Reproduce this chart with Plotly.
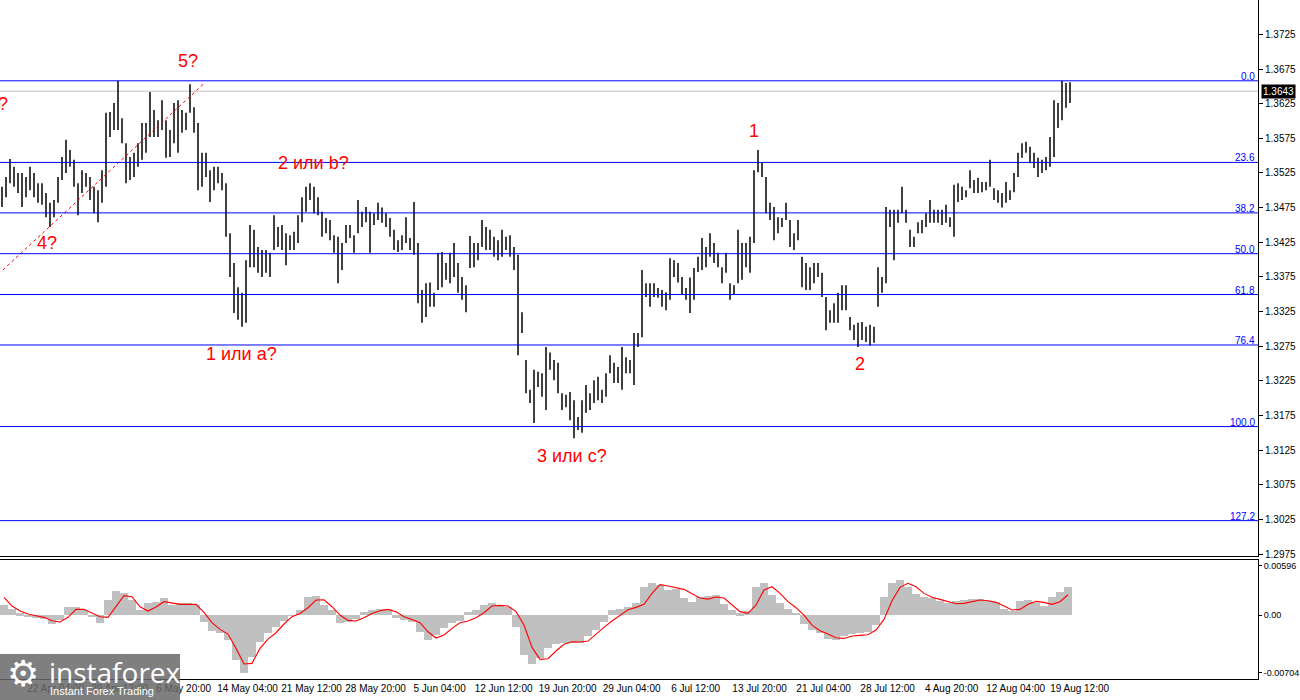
import plotly.graph_objects as go

# ---------------- data ----------------
bar_high = [1.3505,1.3519,1.3545,1.3534,1.3525,1.3525,1.3519,1.3534,1.3525,1.3510,
1.3510,1.3496,1.3482,1.3486,1.3519,1.3548,1.3573,1.3558,1.3544,1.3510,
1.3529,1.3525,1.3519,1.3505,1.3500,1.3529,1.3612,1.3613,1.3626,1.3658,
1.3604,1.3568,1.3548,1.3554,1.3568,1.3597,1.3597,1.3642,1.3616,1.3601,
1.3630,1.3601,1.3587,1.3626,1.3630,1.3616,1.3612,1.3653,1.3620,1.3597,
1.3554,1.3554,1.3529,1.3534,1.3534,1.3525,1.3510,1.3438,1.3395,1.3360,
1.3352,1.3399,1.3450,1.3443,1.3418,1.3414,1.3414,1.3410,1.3464,1.3447,
1.3450,1.3438,1.3435,1.3440,1.3464,1.3490,1.3505,1.3510,1.3505,1.3490,
1.3469,1.3460,1.3457,1.3435,1.3433,1.3424,1.3450,1.3450,1.3435,1.3486,
1.3469,1.3476,1.3469,1.3467,1.3482,1.3475,1.3467,1.3460,1.3443,1.3428,
1.3435,1.3461,1.3431,1.3483,1.3424,1.3356,1.3366,1.3367,1.3352,1.3410,
1.3411,1.3395,1.3410,1.3424,1.3395,1.3375,1.3363,1.3434,1.3424,1.3424,
1.3457,1.3447,1.3443,1.3433,1.3428,1.3443,1.3433,1.3435,1.3418,1.3407,
1.3324,1.3255,1.3212,1.3241,1.3238,1.3236,1.3274,1.3266,1.3255,1.3251,
1.3207,1.3205,1.3209,1.3197,1.3173,1.3197,1.3219,1.3207,1.3226,1.3231,
1.3212,1.3236,1.3262,1.3251,1.3245,1.3274,1.3259,1.3255,1.3294,1.3294,
1.3385,1.3366,1.3366,1.3366,1.3359,1.3356,1.3353,1.3402,1.3399,1.3395,
1.3375,1.3359,1.3374,1.3388,1.3404,1.3431,1.3418,1.3438,1.3424,1.3410,
1.3389,1.3410,1.3366,1.3363,1.3443,1.3424,1.3424,1.3433,1.3529,1.3558,
1.3541,1.3519,1.3482,1.3476,1.3461,1.3460,1.3482,1.3457,1.3438,1.3457,
1.3404,1.3395,1.3389,1.3395,1.3395,1.3381,1.3346,1.3327,1.3337,1.3352,
1.3363,1.3363,1.3317,1.3306,1.3309,1.3310,1.3303,1.3306,1.3303,1.3389,
1.3375,1.3476,1.3472,1.3472,1.3472,1.3505,1.3472,1.3443,1.3433,1.3454,
1.3457,1.3467,1.3486,1.3472,1.3472,1.3472,1.3479,1.3461,1.3508,1.3510,
1.3505,1.3500,1.3529,1.3515,1.3518,1.3512,1.3512,1.3544,1.3503,1.3500,
1.3496,1.3512,1.3500,1.3525,1.3554,1.3568,1.3570,1.3563,1.3554,1.3547,
1.3544,1.3548,1.3577,1.3630,1.3626,1.3658,1.3655,1.3656]

bar_low = [1.3476,1.3490,1.3510,1.3505,1.3496,1.3476,1.3490,1.3500,1.3490,1.3482,
1.3479,1.3461,1.3447,1.3461,1.3482,1.3515,1.3525,1.3534,1.3505,1.3464,
1.3496,1.3505,1.3486,1.3467,1.3454,1.3482,1.3505,1.3577,1.3587,1.3587,
1.3568,1.3510,1.3515,1.3519,1.3534,1.3544,1.3554,1.3577,1.3577,1.3577,
1.3587,1.3547,1.3548,1.3568,1.3554,1.3583,1.3587,1.3612,1.3583,1.3500,
1.3505,1.3519,1.3483,1.3500,1.3510,1.3500,1.3433,1.3375,1.3323,1.3313,
1.3303,1.3309,1.3389,1.3389,1.3381,1.3375,1.3381,1.3375,1.3414,1.3418,
1.3414,1.3392,1.3414,1.3414,1.3424,1.3454,1.3469,1.3486,1.3467,1.3464,
1.3433,1.3438,1.3428,1.3410,1.3366,1.3385,1.3424,1.3431,1.3410,1.3438,
1.3447,1.3454,1.3410,1.3450,1.3457,1.3453,1.3447,1.3433,1.3414,1.3411,
1.3414,1.3424,1.3414,1.3407,1.3337,1.3309,1.3317,1.3332,1.3332,1.3356,
1.3360,1.3371,1.3366,1.3375,1.3352,1.3342,1.3324,1.3388,1.3389,1.3399,
1.3418,1.3414,1.3414,1.3404,1.3399,1.3404,1.3414,1.3404,1.3385,1.3262,
1.3294,1.3207,1.3193,1.3164,1.3216,1.3202,1.3183,1.3241,1.3226,1.3207,
1.3183,1.3187,1.3168,1.3142,1.3154,1.3150,1.3179,1.3183,1.3193,1.3197,
1.3193,1.3202,1.3236,1.3222,1.3222,1.3212,1.3236,1.3236,1.3219,1.3274,
1.3288,1.3346,1.3332,1.3346,1.3345,1.3332,1.3327,1.3342,1.3375,1.3367,
1.3349,1.3342,1.3323,1.3342,1.3382,1.3385,1.3389,1.3404,1.3395,1.3389,
1.3366,1.3381,1.3342,1.3349,1.3366,1.3371,1.3389,1.3381,1.3424,1.3526,
1.3519,1.3467,1.3457,1.3428,1.3438,1.3447,1.3457,1.3418,1.3414,1.3428,
1.3360,1.3356,1.3356,1.3366,1.3375,1.3346,1.3298,1.3309,1.3309,1.3309,
1.3327,1.3327,1.3298,1.3284,1.3274,1.3284,1.3281,1.3276,1.3280,1.3332,
1.3352,1.3366,1.3447,1.3399,1.3453,1.3467,1.3453,1.3418,1.3418,1.3438,
1.3438,1.3447,1.3453,1.3453,1.3453,1.3450,1.3453,1.3447,1.3433,1.3483,
1.3486,1.3490,1.3503,1.3496,1.3496,1.3497,1.3500,1.3505,1.3486,1.3482,
1.3475,1.3482,1.3486,1.3497,1.3519,1.3547,1.3554,1.3539,1.3532,1.3519,
1.3525,1.3529,1.3534,1.3548,1.3590,1.3601,1.3619,1.3626]

macd_hist = [0.00122,0.00069,0.00020,-0.00028,-0.00032,-0.00053,-0.00109,-0.00061,0.00093,0.00101,
0.00061,-0.00028,-0.00093,0.00182,0.00292,0.00263,0.00182,0.00061,0.00150,0.00162,
0.00203,0.00122,0.00150,0.00150,0.00122,-0.00081,-0.00190,-0.00215,-0.00304,-0.00547,
-0.00701,-0.00506,-0.00324,-0.00223,-0.00142,-0.00069,-0.00005,0.00061,0.00215,0.00231,
0.00122,0.00061,-0.00101,-0.00081,-0.00053,0.00041,0.00061,0.00069,0.00069,-0.00041,
-0.00061,-0.00081,-0.00203,-0.00304,-0.00243,-0.00162,-0.00101,-0.00069,0.00041,0.00061,
0.00122,0.00142,0.00122,0.00101,-0.00142,-0.00486,-0.00595,-0.00527,-0.00405,-0.00352,
-0.00344,-0.00344,-0.00336,-0.00255,-0.00182,-0.00081,0.00061,0.00077,0.00101,0.00150,
0.00336,0.00393,0.00365,0.00304,0.00320,0.00203,0.00162,0.00215,0.00231,0.00239,
0.00134,0.00061,0.00020,0.00053,0.00344,0.00385,0.00243,0.00150,0.00069,0.00028,
-0.00109,-0.00182,-0.00215,-0.00296,-0.00304,-0.00255,-0.00231,-0.00223,-0.00203,-0.00122,
0.00223,0.00385,0.00425,0.00344,0.00255,0.00215,0.00203,0.00174,0.00150,0.00166,
0.00182,0.00198,0.00190,0.00174,0.00162,0.00069,0.00049,0.00174,0.00182,0.00150,
0.00113,0.00223,0.00284,0.00336]

macd_signal = [0.00215,0.00109,0.00049,0.00012,-0.00008,-0.00028,-0.00069,-0.00085,-0.00028,0.00069,
0.00069,0.00028,-0.00020,-0.00028,0.00109,0.00235,0.00223,0.00101,0.00049,0.00097,
0.00162,0.00150,0.00130,0.00130,0.00130,0.00032,-0.00093,-0.00174,-0.00231,-0.00405,
-0.00595,-0.00587,-0.00405,-0.00292,-0.00215,-0.00109,-0.00020,0.00020,0.00089,0.00182,
0.00186,0.00101,0.00000,-0.00065,-0.00073,-0.00032,0.00020,0.00053,0.00069,0.00041,
-0.00020,-0.00053,-0.00093,-0.00203,-0.00279,-0.00243,-0.00162,-0.00093,-0.00073,-0.00032,
0.00028,0.00109,0.00117,0.00109,0.00041,-0.00122,-0.00393,-0.00539,-0.00531,-0.00437,
-0.00356,-0.00324,-0.00328,-0.00316,-0.00231,-0.00150,-0.00073,0.00000,0.00065,0.00093,
0.00130,0.00263,0.00369,0.00352,0.00328,0.00312,0.00259,0.00207,0.00194,0.00219,
0.00207,0.00122,0.00041,0.00020,0.00122,0.00304,0.00344,0.00263,0.00162,0.00089,
0.00000,-0.00122,-0.00190,-0.00231,-0.00275,-0.00284,-0.00255,-0.00247,-0.00239,-0.00182,
-0.00053,0.00174,0.00336,0.00385,0.00344,0.00263,0.00215,0.00190,0.00162,0.00138,
0.00142,0.00166,0.00182,0.00174,0.00154,0.00109,0.00061,0.00069,0.00130,0.00166,
0.00154,0.00130,0.00162,0.00247]

tick_labels = ["22 Apr 04:00", "29 Apr 12:00", "6 May 20:00", "14 May 04:00", "21 May 12:00",
               "28 May 20:00", "5 Jun 04:00", "12 Jun 12:00", "19 Jun 20:00", "29 Jun 04:00",
               "6 Jul 12:00", "13 Jul 20:00", "21 Jul 04:00", "28 Jul 12:00", "4 Aug 20:00",
               "12 Aug 04:00", "19 Aug 12:00"]
tick_bars = [6, 22, 38, 54, 70, 86, 102, 118, 134, 150, 166, 182, 198, 214, 230, 246, 262]

price_ticks = [1.2975, 1.3025, 1.3075, 1.3125, 1.3175, 1.3225, 1.3275, 1.3325, 1.3375,
               1.3425, 1.3475, 1.3525, 1.3575, 1.3625, 1.3675, 1.3725]
macd_ticks = [0.00596, 0.0, -0.00704]
macd_tick_text = ["0.00596", "0.00", "-0.00704"]

fib_pcts = [0.0, 23.6, 38.2, 50.0, 61.8, 76.4, 100.0, 127.2]
fib_labels = ["0.0", "23.6", "38.2", "50.0", "61.8", "76.4", "100.0", "127.2"]
fib_high = 1.3658
fib_low = 1.3159

current_price = 1.3643

wave_texts = ["?", "5?", "4?", "2 или b?", "1 или a?", "3 или с?", "1", "2"]
wave_bar = [0.3, 46.5, 11.3, 77.8, 59.8, 142.5, 188.0, 214.5]
wave_price = [1.3624, 1.3687, 1.3424, 1.3539, 1.3264, 1.3117, 1.3586, 1.3249]

trend_bar = [0.2, 50.3]
trend_price = [1.3385, 1.3653]

# ---------------- figure ----------------
seg_x, seg_y = [], []
for i, (h, l) in enumerate(zip(bar_high, bar_low)):
    seg_x += [i, i, None]
    seg_y += [l, h, None]

macd_x = [2 * j + 0.5 for j in range(len(macd_hist))]

X_RANGE = [-0.5, 314]
FONT = "Liberation Sans"

fig = go.Figure()
fig.add_trace(go.Scatter(x=seg_x, y=seg_y, mode="lines",
                         line=dict(color="black", width=1.5),
                         xaxis="x", yaxis="y", hoverinfo="skip"))
fig.add_trace(go.Scatter(x=trend_bar, y=trend_price, mode="lines",
                         line=dict(color="red", width=1, dash="dot"),
                         xaxis="x", yaxis="y", hoverinfo="skip"))
fig.add_trace(go.Bar(x=macd_x, y=macd_hist, width=2,
                     marker=dict(color="#c0c0c0", line=dict(width=0)),
                     xaxis="x2", yaxis="y2", hoverinfo="skip"))
fig.add_trace(go.Scatter(x=macd_x, y=macd_signal, mode="lines",
                         line=dict(color="red", width=1.1),
                         xaxis="x2", yaxis="y2", hoverinfo="skip"))

shapes = []
annotations = []
for pct, lab in zip(fib_pcts, fib_labels):
    lvl = fib_high - pct / 100.0 * (fib_high - fib_low)
    shapes.append(dict(type="line", xref="paper", yref="y", x0=0, x1=1, y0=lvl, y1=lvl,
                       line=dict(color="#0000ff", width=1), layer="above"))
    annotations.append(dict(xref="paper", yref="y", x=1, y=lvl, text=lab, showarrow=False,
                            xanchor="right", yanchor="bottom", yshift=-3, xshift=-1,
                            font=dict(family=FONT, size=10, color="#0000ff")))

shapes.append(dict(type="line", xref="paper", yref="y", x0=0, x1=1,
                   y0=current_price, y1=current_price,
                   line=dict(color="#c0c0c0", width=1), layer="below"))
annotations.append(dict(xref="paper", yref="y", x=1, y=current_price, text=f"{current_price:.4f}",
                        showarrow=False, xanchor="left", yanchor="middle", xshift=3,
                        bgcolor="black", borderpad=1,
                        font=dict(family=FONT, size=10, color="white")))

for t, bx, py in zip(wave_texts, wave_bar, wave_price):
    annotations.append(dict(xref="x", yref="y", x=bx, y=py, text=t, showarrow=False,
                            xanchor="center", yanchor="middle",
                            font=dict(family=FONT, size=18, color="#ff0000")))

# logo (bottom-left)
shapes.append(dict(type="rect", xref="paper", yref="paper", x0=0, x1=0.1431,
                   y0=-0.031, y1=0.0368, fillcolor="rgba(105,105,105,0.85)",
                   line=dict(width=0), layer="above"))
annotations.append(dict(xref="paper", yref="paper", x=0.0183, y=0.0088, text="⚙",
                        showarrow=False, xanchor="center", yanchor="middle",
                        font=dict(family="DejaVu Sans", size=36, color="white")))
annotations.append(dict(xref="paper", yref="paper", x=0.0374, y=0.0103, text="instaforex",
                        showarrow=False, xanchor="left", yanchor="middle",
                        font=dict(family="Open Sans", size=28, color="white")))
annotations.append(dict(xref="paper", yref="paper", x=0.0382, y=-0.0177, text="Instant Forex Trading",
                        showarrow=False, xanchor="left", yanchor="middle",
                        font=dict(family=FONT, size=11, color="white")))

fig.update_layout(
    width=1300, height=700,
    margin=dict(l=0, r=42, t=0, b=21, autoexpand=False),
    paper_bgcolor="white", plot_bgcolor="white",
    showlegend=False, bargap=0,
    font=dict(family=FONT, size=10, color="black"),
    xaxis=dict(domain=[0, 1], range=X_RANGE, anchor="y", showticklabels=False,
               showgrid=False, zeroline=False, showline=True, linecolor="black",
               linewidth=1, ticks="", automargin=False),
    yaxis=dict(domain=[0.1811, 1], range=[1.29722, 1.37746], side="right", anchor="x",
               tickvals=price_ticks, ticktext=[f"{v:.4f}" for v in price_ticks],
               ticks="outside", ticklen=4, tickcolor="black", showline=True,
               linecolor="black", showgrid=False, zeroline=False, automargin=False,
               tickfont=dict(size=10)),
    xaxis2=dict(domain=[0, 1], range=X_RANGE, anchor="y2",
                tickvals=[b + 7.4 for b in tick_bars], ticktext=tick_labels,
                tickangle=0, ticks="", showline=True, mirror=True, linecolor="black",
                showgrid=False, zeroline=False, automargin=False,
                tickfont=dict(size=10)),
    yaxis2=dict(domain=[0, 0.1753], range=[-0.00777, 0.00669], side="right", anchor="x2",
                tickvals=macd_ticks, ticktext=macd_tick_text, ticks="outside", ticklen=3,
                tickcolor="black", showline=True, linecolor="black", showgrid=False,
                zeroline=False, automargin=False, tickfont=dict(size=9)),
    shapes=shapes, annotations=annotations,
)

fig.write_html("out.html", config={"displayModeBar": False},
               post_script="document.body.style.margin='0';document.body.style.overflow='hidden';")
